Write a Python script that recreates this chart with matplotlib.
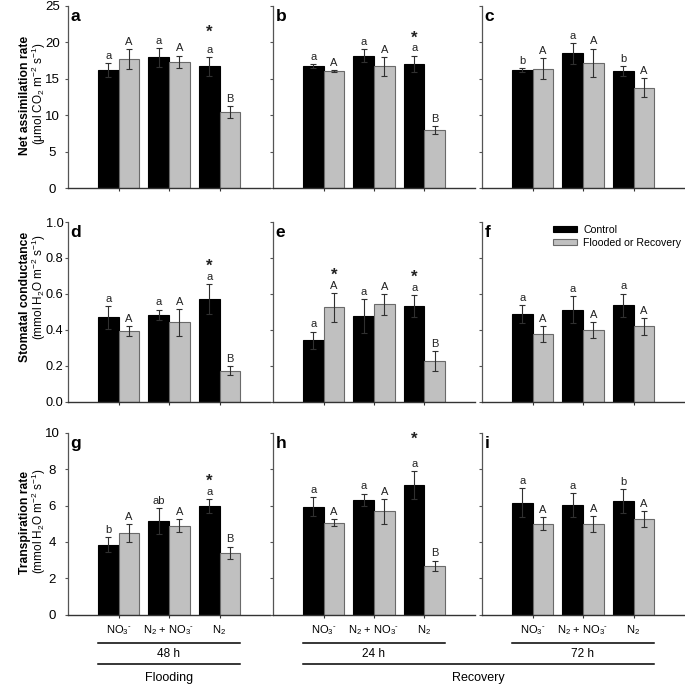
import matplotlib
matplotlib.use('Agg')
import matplotlib.pyplot as plt
import numpy as np
from matplotlib.lines import Line2D

plt.rcParams['font.family'] = ['Liberation Sans', 'DejaVu Sans']
plt.rcParams['mathtext.fontset'] = 'custom'
plt.rcParams['mathtext.rm'] = 'Liberation Sans'
plt.rcParams['mathtext.it'] = 'Liberation Sans:italic'
plt.rcParams['mathtext.bf'] = 'Liberation Sans:bold'
plt.rcParams['mathtext.default'] = 'regular'

# ---------------- data ----------------
groups = ['NO$_3$$^{\u2010}$', 'N$_2$ + NO$_3$$^{\u2010}$', 'N$_2$']
times = ['48 h', '24 h', '72 h']
phases = ['Flooding', 'Recovery']
series_names = ['Control', 'Flooded or Recovery']
panel_letters = ['a', 'b', 'c', 'd', 'e', 'f', 'g', 'h', 'i']

# Net assimilation rate
an_48_ctrl = [16.2, 17.95, 16.7];  an_48_ctrl_err = [1.0, 1.3, 1.25]
an_48_trt = [17.7, 17.35, 10.4];   an_48_trt_err = [1.35, 0.85, 0.85]
an_24_ctrl = [16.75, 18.2, 17.1];  an_24_ctrl_err = [0.25, 0.85, 1.1]
an_24_trt = [16.1, 16.7, 7.95];    an_24_trt_err = [0.15, 1.3, 0.5]
an_72_ctrl = [16.2, 18.5, 16.1];   an_72_ctrl_err = [0.3, 1.4, 0.7]
an_72_trt = [16.4, 17.2, 13.8];    an_72_trt_err = [1.45, 1.95, 1.35]

# Stomatal conductance
gs_48_ctrl = [0.47, 0.485, 0.57];  gs_48_ctrl_err = [0.065, 0.028, 0.083]
gs_48_trt = [0.394, 0.443, 0.174]; gs_48_trt_err = [0.03, 0.075, 0.024]
gs_24_ctrl = [0.344, 0.48, 0.533]; gs_24_ctrl_err = [0.047, 0.094, 0.06]
gs_24_trt = [0.526, 0.543, 0.228]; gs_24_trt_err = [0.08, 0.057, 0.054]
gs_72_ctrl = [0.49, 0.513, 0.537]; gs_72_ctrl_err = [0.05, 0.076, 0.065]
gs_72_trt = [0.38, 0.398, 0.42];   gs_72_trt_err = [0.044, 0.045, 0.045]

# Transpiration rate
e_48_ctrl = [3.85, 5.15, 5.99];    e_48_ctrl_err = [0.4, 0.73, 0.39]
e_48_trt = [4.47, 4.89, 3.4];      e_48_trt_err = [0.5, 0.35, 0.34]
e_24_ctrl = [5.94, 6.33, 7.13];    e_24_ctrl_err = [0.53, 0.33, 0.76]
e_24_trt = [5.06, 5.69, 2.67];     e_24_trt_err = [0.2, 0.69, 0.3]
e_72_ctrl = [6.16, 6.03, 6.25];    e_72_ctrl_err = [0.8, 0.65, 0.65]
e_72_trt = [5.0, 4.97, 5.26];      e_72_trt_err = [0.35, 0.44, 0.44]

# significance letters
let_ctrl = [['a', 'a', 'a'], ['a', 'a', 'a'], ['b', 'a', 'b'],
            ['a', 'a', 'a'], ['a', 'a', 'a'], ['a', 'a', 'a'],
            ['b', 'ab', 'a'], ['a', 'a', 'a'], ['a', 'a', 'b']]
let_trt = [['A', 'A', 'B'], ['A', 'A', 'B'], ['A', 'A', 'A'],
           ['A', 'A', 'B'], ['A', 'A', 'B'], ['A', 'A', 'A'],
           ['A', 'A', 'B'], ['A', 'A', 'B'], ['A', 'A', 'A']]
star_ctrl = [[0, 0, 1], [0, 0, 1], [0, 0, 0],
             [0, 0, 1], [0, 0, 1], [0, 0, 0],
             [0, 0, 1], [0, 0, 1], [0, 0, 0]]
star_trt = [[0, 0, 0], [0, 0, 0], [0, 0, 0],
            [0, 0, 0], [1, 0, 0], [0, 0, 0],
            [0, 0, 0], [0, 0, 0], [0, 0, 0]]

rows = [
    [(an_48_ctrl, an_48_ctrl_err, an_48_trt, an_48_trt_err),
     (an_24_ctrl, an_24_ctrl_err, an_24_trt, an_24_trt_err),
     (an_72_ctrl, an_72_ctrl_err, an_72_trt, an_72_trt_err)],
    [(gs_48_ctrl, gs_48_ctrl_err, gs_48_trt, gs_48_trt_err),
     (gs_24_ctrl, gs_24_ctrl_err, gs_24_trt, gs_24_trt_err),
     (gs_72_ctrl, gs_72_ctrl_err, gs_72_trt, gs_72_trt_err)],
    [(e_48_ctrl, e_48_ctrl_err, e_48_trt, e_48_trt_err),
     (e_24_ctrl, e_24_ctrl_err, e_24_trt, e_24_trt_err),
     (e_72_ctrl, e_72_ctrl_err, e_72_trt, e_72_trt_err)],
]
ylims = [(0, 25), (0, 1.0), (0, 10)]
yticks = [np.arange(0, 26, 5), np.arange(0, 1.01, 0.2), np.arange(0, 11, 2)]
yfmt = ['{:.0f}', '{:.1f}', '{:.0f}']
ylab_bold = ['Net assimilation rate', 'Stomatal conductance', 'Transpiration rate']
ylab_unit = ['(μmol CO$_2$ m$^{-2}$ s$^{-1}$)', '(mmol H$_2$O m$^{-2}$ s$^{-1}$)',
             '(mmol H$_2$O m$^{-2}$ s$^{-1}$)']

# ---------------- layout ----------------
W, H = 685, 687
fig = plt.figure(figsize=(W / 100, H / 100), dpi=100)
col_left = [68, 273, 482]
col_w = 202
row_top = [6, 222, 433]
row_bot = [188, 402, 614.5]
ytick_pad = [9, 7.3, 9]
ytick_size = [9.5, 9.2, 9.5]
star_off = [15, 9.5, 9.5, 9.5, 9.5, 9.5, 9.5, 20, 9.5]  # points above error bar

BLACK = '#000000'
GRAY = '#c0c0c0'
GRAY_EDGE = '#6a6a6a'
SPINE = '#555555'

x = np.array([1, 2, 3])
bw = 0.41
axes = []
legend_handles = None
for r in range(3):
    for c in range(3):
        k = r * 3 + c
        ax = fig.add_axes([col_left[c] / W, 1 - row_bot[r] / H,
                           col_w / W, (row_bot[r] - row_top[r]) / H])
        axes.append(ax)
        mc, ec, mt, et = rows[r][c]
        b1 = ax.bar(x - bw / 2, mc, bw, color=BLACK, edgecolor=BLACK, linewidth=0.8, zorder=2)
        b2 = ax.bar(x + bw / 2, mt, bw, color=GRAY, edgecolor=GRAY_EDGE, linewidth=0.8, zorder=2)
        ax.errorbar(x - bw / 2, mc, yerr=ec, fmt='none', ecolor='#303030',
                    elinewidth=0.8, capsize=2.2, capthick=0.8, zorder=3)
        ax.errorbar(x + bw / 2, mt, yerr=et, fmt='none', ecolor='#303030',
                    elinewidth=0.8, capsize=2.2, capthick=0.8, zorder=3)
        if legend_handles is None:
            legend_handles = (b1, b2)
        for i in range(3):
            for xi, m, e, lt, st in ((x[i] - bw / 2, mc[i], ec[i], let_ctrl[k][i], star_ctrl[k][i]),
                                     (x[i] + bw / 2, mt[i], et[i], let_trt[k][i], star_trt[k][i])):
                ax.annotate(lt, (xi, m + e), xytext=(0, 3), textcoords='offset points',
                            ha='center', va='baseline', fontsize=8, color='#222222')
                if st:
                    ax.annotate('*', (xi, m + e), xytext=(0, star_off[k]),
                                textcoords='offset points', ha='center', va='baseline',
                                fontsize=12, fontweight='bold', color='#222222')
        ax.set_xlim(0, 4)
        ax.set_ylim(*ylims[r])
        ax.set_yticks(yticks[r])
        ax.set_xticks(x)
        for s in ('top', 'right'):
            ax.spines[s].set_visible(False)
        ax.spines['left'].set_color(SPINE)
        ax.spines['bottom'].set_color('#333333')
        ax.spines['left'].set_linewidth(0.9)
        ax.spines['bottom'].set_linewidth(1.0)
        ax.tick_params(axis='y', direction='out', length=2.2, width=0.8, color=SPINE,
                       labelsize=ytick_size[r], pad=ytick_pad[r])
        ax.tick_params(axis='x', direction='out', length=2.2, width=0.8, color='#333333',
                       labelsize=8, pad=4)
        if c == 0:
            ax.set_yticklabels([yfmt[r].format(v) for v in yticks[r]])
            for t in ax.get_yticklabels():
                t.set_ha('center')
        else:
            ax.set_yticklabels([])
        if r == 2:
            ax.set_xticklabels(groups)
        else:
            ax.set_xticklabels([])
        ax.text(0.012, 0.985, panel_letters[k], transform=ax.transAxes, ha='left', va='top',
                fontsize=12.5, fontweight='bold')

# y labels
ylab_bold_y = [95, 297, 522]
ylab_unit_y = [94, 287, 521]
for r in range(3):
    fig.text(25.5 / W, 1 - ylab_bold_y[r] / H, ylab_bold[r], rotation=90, ha='center',
             va='center', fontsize=8.7, fontweight='bold')
    fig.text(38.5 / W, 1 - ylab_unit_y[r] / H, ylab_unit[r], rotation=90, ha='center',
             va='center', fontsize=8.5)

# legend
axes[5].legend(legend_handles, series_names, loc='upper left', bbox_to_anchor=(0.35, 0.985),
               frameon=False, fontsize=7.6, handlelength=2.3, handleheight=0.5,
               handletextpad=0.6, labelspacing=0.3, borderpad=0, borderaxespad=0)

# bottom annotations: time and phase brackets
def fig_x(ax, xd):
    disp = ax.transData.transform((xd, 0))
    return fig.transFigure.inverted().transform(disp)[0]

y_line1 = 1 - 643 / H
y_time = 1 - 654 / H
y_line2 = 1 - 664 / H
y_phase = 1 - 678 / H
bottom_axes = axes[6:9]
for c in range(3):
    ax = bottom_axes[c]
    x0, x1 = fig_x(ax, 0.6), fig_x(ax, 3.4)
    fig.add_artist(Line2D([x0, x1], [y_line1, y_line1], transform=fig.transFigure,
                          color='black', lw=1.1))
    fig.text((x0 + x1) / 2, y_time, times[c], ha='center', va='center', fontsize=8.5)

# phase lines
fx0, fx1 = fig_x(bottom_axes[0], 0.6), fig_x(bottom_axes[0], 3.4)
fig.add_artist(Line2D([fx0, fx1], [y_line2, y_line2], transform=fig.transFigure,
                      color='black', lw=1.1))
fig.text((fx0 + fx1) / 2, y_phase, phases[0], ha='center', va='center', fontsize=9)
rx0, rx1 = fig_x(bottom_axes[1], 0.6), fig_x(bottom_axes[2], 3.4)
fig.add_artist(Line2D([rx0, rx1], [y_line2, y_line2], transform=fig.transFigure,
                      color='black', lw=1.1))
fig.text((rx0 + rx1) / 2, y_phase, phases[1], ha='center', va='center', fontsize=9)

fig.savefig('out.png', dpi=100)
